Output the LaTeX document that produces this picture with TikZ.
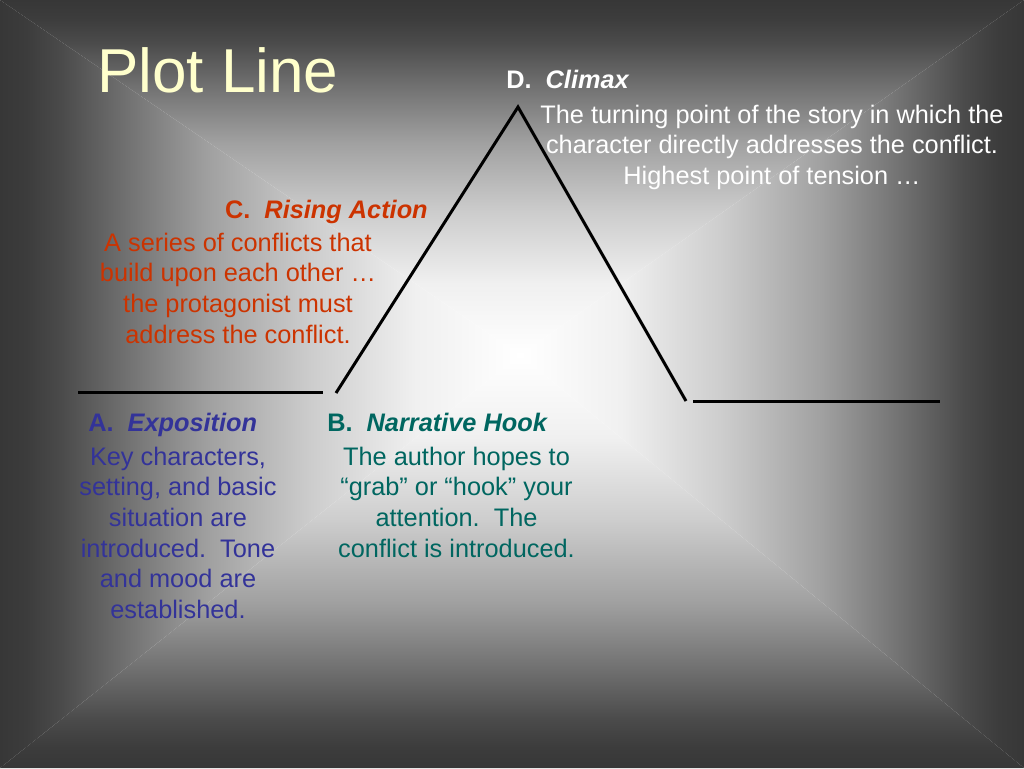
\documentclass[tikz,border=0pt]{standalone}
\usepackage{fontspec}
\setmainfont{Liberation Sans}
\definecolor{g0}{RGB}{255,255,255}
\definecolor{g1}{RGB}{240,240,240}
\definecolor{g2}{RGB}{205,205,205}
\definecolor{g3}{RGB}{160,160,160}
\definecolor{g4}{RGB}{115,115,115}
\definecolor{g5}{RGB}{75,75,75}
\definecolor{g6}{RGB}{60,60,60}
\definecolor{g7}{RGB}{55,55,55}
\definecolor{titlecol}{RGB}{255,255,204}
\definecolor{risecol}{RGB}{204,51,0}
\definecolor{expocol}{RGB}{51,51,153}
\definecolor{hookcol}{RGB}{0,102,96}
\pgfdeclarehorizontalshading{bgOutInH}{100bp}{color(0bp)=(g7); color(25bp)=(g7); color(27.5bp)=(g6); color(31bp)=(g5); color(37.5bp)=(g4); color(45bp)=(g3); color(55bp)=(g2); color(65bp)=(g1); color(75bp)=(g0); color(100bp)=(g0)}
\pgfdeclarehorizontalshading{bgInOutH}{100bp}{color(0bp)=(g0); color(25bp)=(g0); color(35bp)=(g1); color(45bp)=(g2); color(55bp)=(g3); color(62.5bp)=(g4); color(69bp)=(g5); color(72.5bp)=(g6); color(75bp)=(g7); color(100bp)=(g7)}
\pgfdeclareverticalshading{bgOutInV}{100bp}{color(0bp)=(g7); color(25bp)=(g7); color(27.5bp)=(g6); color(31bp)=(g5); color(37.5bp)=(g4); color(45bp)=(g3); color(55bp)=(g2); color(65bp)=(g1); color(75bp)=(g0); color(100bp)=(g0)}
\pgfdeclareverticalshading{bgInOutV}{100bp}{color(0bp)=(g0); color(25bp)=(g0); color(35bp)=(g1); color(45bp)=(g2); color(55bp)=(g3); color(62.5bp)=(g4); color(69bp)=(g5); color(72.5bp)=(g6); color(75bp)=(g7); color(100bp)=(g7)}
\tikzset{
  bodytext/.style={font=\fontsize{19}{23}\selectfont, align=center, inner sep=0pt},
  headtext/.style={font=\fontsize{19}{23}\selectfont\bfseries, inner sep=0pt},
  titletext/.style={font=\fontsize{46.5}{50}\selectfont, text=titlecol, inner sep=0pt},
  plotstroke/.style={line width=2.25pt, black}
}
\begin{document}
\begin{tikzpicture}[x=0.75pt,y=-0.75pt]
\useasboundingbox (0,0) rectangle (1024,768);
% background: rectangular path gradient
\coordinate (c) at (520,355);
\shade[shading=bgInOutV] (0,0) -- (1024,0) -- (c) -- cycle;
\shade[shading=bgOutInV] (0,768) -- (1024,768) -- (c) -- cycle;
\shade[shading=bgOutInH] (0,0) -- (0,768) -- (c) -- cycle;
\shade[shading=bgInOutH] (1024,0) -- (1024,768) -- (c) -- cycle;
% plot line
\coordinate (l1) at (78,392);
\coordinate (l2) at (323,392);
\coordinate (r0) at (336,393);
\coordinate (apex) at (518,107);
\coordinate (r1) at (686,401);
\coordinate (h1) at (693,401);
\coordinate (h2) at (940,401);
\draw[plotstroke] (l1) -- (l2);
\draw[plotstroke] (r0) -- (apex) -- (r1);
\draw[plotstroke] (h1) -- (h2);
% texts
\node[titletext, anchor=base west] (title) at (97,92) {Plot Line};
\node[headtext, text=white, anchor=base west] (dhead) at (506,88) {D.\ \ \textit{Climax}};
\node[bodytext, text=white, anchor=north] (ddesc) at (772,104.5) {The turning point of the story in which the\\character directly addresses the conflict.\\Highest point of tension …};
\node[headtext, text=risecol, anchor=base east] (chead) at (428,218) {C.\ \ \textit{Rising Action}};
\node[bodytext, text=risecol, anchor=north] (cdesc) at (238,232.5) {A series of conflicts that\\build upon each other …\\the protagonist must\\address the conflict.};
\node[headtext, text=expocol, anchor=base west] (ahead) at (88,431) {A.\ \ \textit{Exposition}};
\node[bodytext, text=expocol, anchor=north] (adesc) at (178,446.5) {Key characters,\\setting, and basic\\situation are\\introduced.\ \ Tone\\and mood are\\established.};
\node[headtext, text=hookcol, anchor=base west] (bhead) at (327,431) {B.\ \ \textit{Narrative Hook}};
\node[bodytext, text=hookcol, anchor=north] (bdesc) at (456.5,446.5) {The author hopes to\\“grab” or “hook” your\\attention.\ \ The\\conflict is introduced.};
\end{tikzpicture}
\end{document}
